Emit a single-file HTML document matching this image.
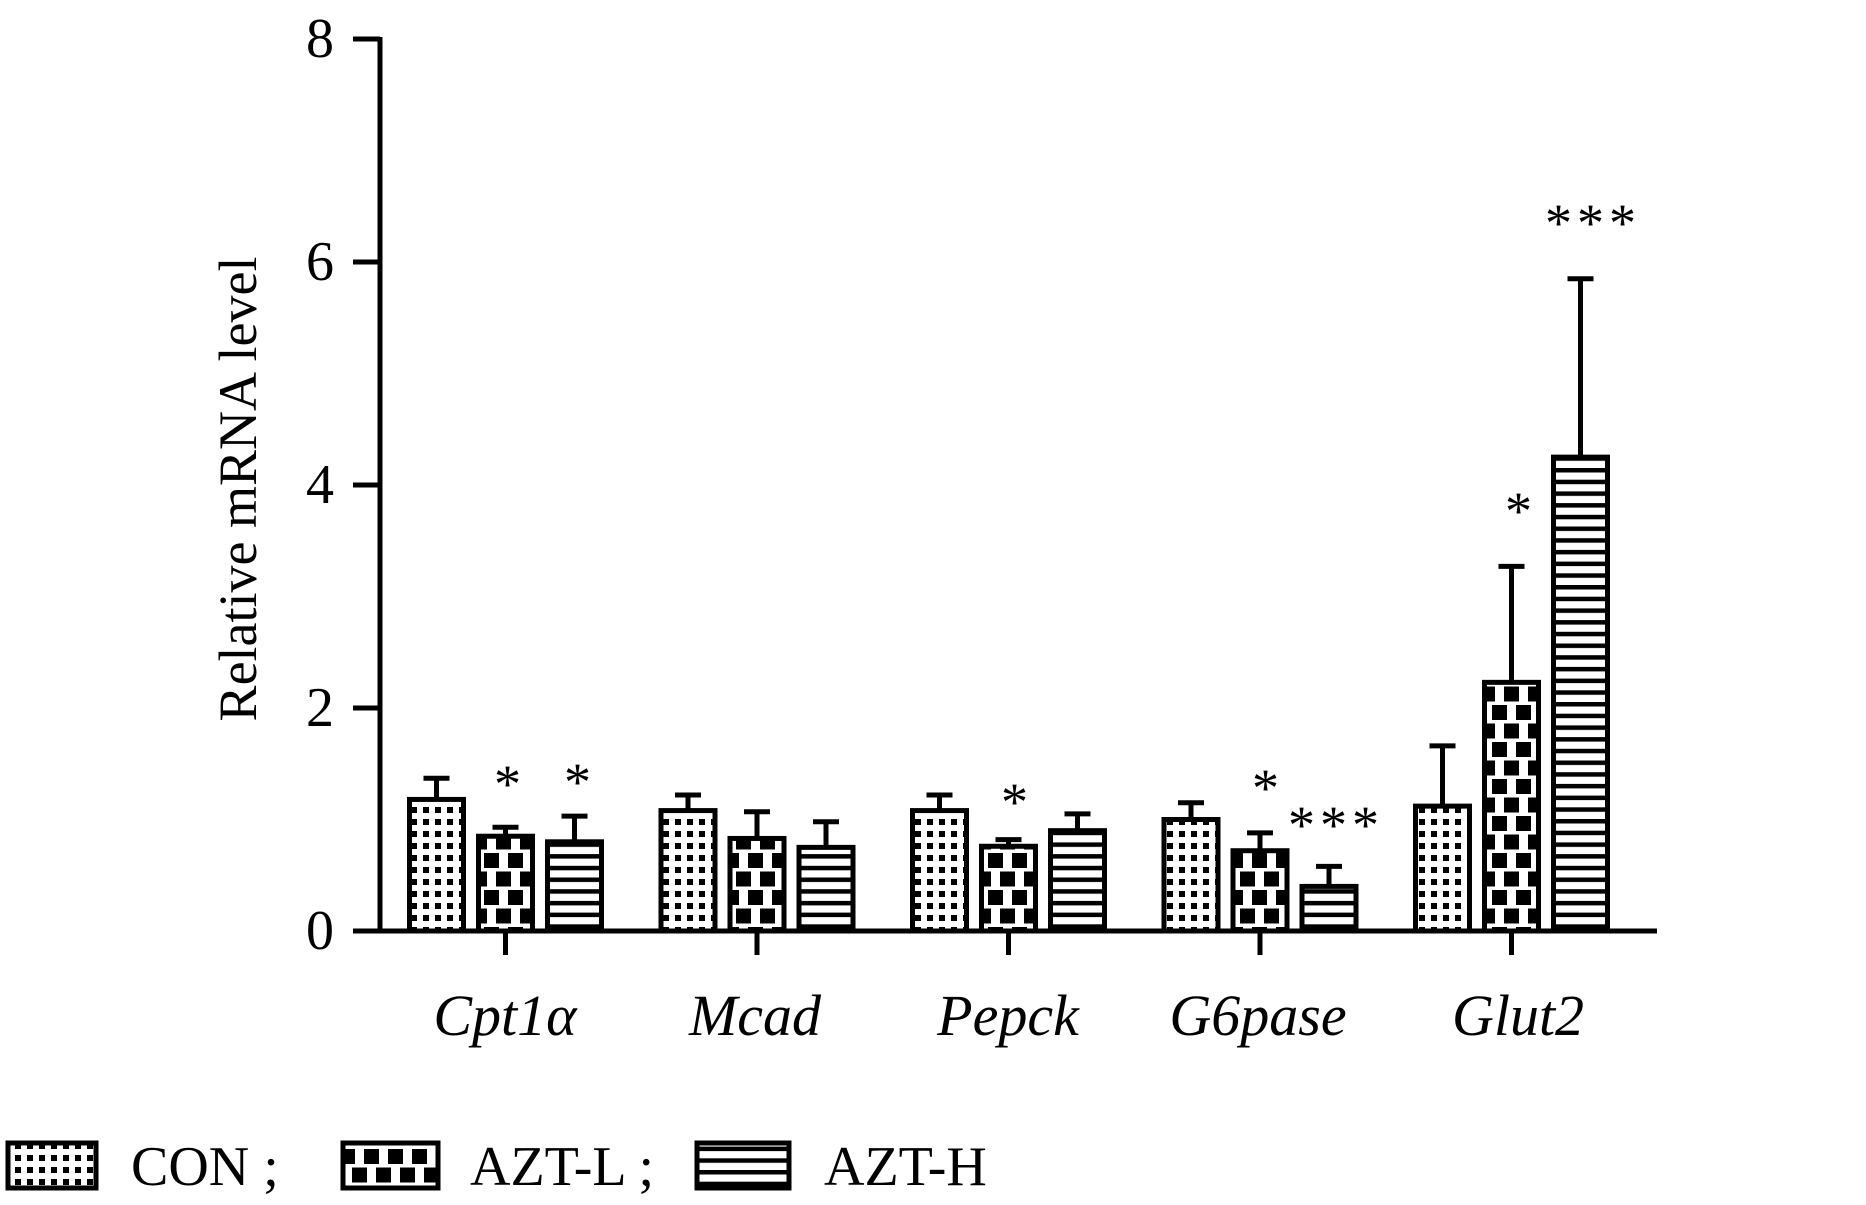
<!DOCTYPE html>
<html><head><meta charset="utf-8"><style>
html,body{margin:0;padding:0;background:#fff;}
svg{display:block;}
text{font-family:"Liberation Serif",serif;fill:#000;}
</style></head><body>
<svg width="1866" height="1205" viewBox="0 0 1866 1205" xmlns="http://www.w3.org/2000/svg">
<defs>
<pattern id="dots" width="12" height="12" patternUnits="userSpaceOnUse">
<rect width="12" height="12" fill="#fff"/><rect x="3" y="3" width="6" height="6" fill="#000"/>
</pattern>
<pattern id="brick" width="24" height="37" patternUnits="userSpaceOnUse">
<rect width="24" height="37" fill="#fff"/>
<rect x="4" y="2" width="15" height="15" fill="#000"/>
<rect x="-8" y="20.5" width="15" height="15" fill="#000"/>
<rect x="16" y="20.5" width="15" height="15" fill="#000"/>
</pattern>
<pattern id="stripes" width="12" height="11.7" patternUnits="userSpaceOnUse">
<rect width="12" height="11.7" fill="#fff"/><rect y="0" width="12" height="4.5" fill="#000"/>
</pattern>
</defs>

<line x1="380" y1="37" x2="380" y2="933" stroke="#000" stroke-width="5"/>
<line x1="378" y1="931" x2="1657" y2="931" stroke="#000" stroke-width="5"/>
<g stroke="#000" stroke-width="5">
<line x1="353" y1="39" x2="380" y2="39"/>
<line x1="353" y1="262" x2="380" y2="262"/>
<line x1="353" y1="485" x2="380" y2="485"/>
<line x1="353" y1="708" x2="380" y2="708"/>
<line x1="353" y1="931" x2="380" y2="931"/>
<line x1="505.5" y1="931" x2="505.5" y2="955"/>
<line x1="757" y1="931" x2="757" y2="955"/>
<line x1="1008.5" y1="931" x2="1008.5" y2="955"/>
<line x1="1260" y1="931" x2="1260" y2="955"/>
<line x1="1511.5" y1="931" x2="1511.5" y2="955"/>
</g>
<g font-size="56" text-anchor="end">
<text x="334" y="57">8</text>
<text x="334" y="280">6</text>
<text x="334" y="503">4</text>
<text x="334" y="726">2</text>
<text x="334" y="949">0</text>
</g>
<text transform="translate(256,489) rotate(-90)" font-size="54" text-anchor="middle">Relative mRNA level</text>

<g id="bars" stroke="#000" stroke-width="5"></g>

<g font-size="58" font-style="italic" text-anchor="middle">
<text x="505" y="1035">Cpt1<tspan>α</tspan></text>
<text x="755" y="1035">Mcad</text>
<text x="1008" y="1035">Pepck</text>
<text x="1258" y="1035">G6pase</text>
<text x="1518" y="1035">Glut2</text>
</g>

<g font-size="54" text-anchor="middle" letter-spacing="5">
<text x="510" y="802">*</text>
<text x="580" y="800">*</text>
<text x="1017" y="820">*</text>
<text x="1268" y="806">*</text>
<text x="1336" y="843">***</text>
<text x="1521" y="529">*</text>
<text x="1593" y="241">***</text>
</g>

<g stroke="#000" stroke-width="5">
<rect x="8" y="1143" width="88" height="45" fill="url(#dots)"/>
<rect x="343" y="1143" width="95" height="45" fill="url(#brick)"/>
<rect x="697" y="1143" width="92" height="45" fill="url(#stripes)"/>
</g>
<g font-size="56">
<text x="131" y="1185">CON ;</text>
<text x="470" y="1185">AZT-L ;</text>
<text x="824" y="1185">AZT-H</text>
</g>

<script>
var g=document.getElementById('bars');
var data=[[1.18,1.37,0.85,0.93,0.8,1.03],[1.08,1.22,0.83,1.07,0.75,0.98],[1.08,1.22,0.76,0.82,0.9,1.05],[1.0,1.15,0.72,0.88,0.4,0.58],[1.12,1.66,2.23,3.27,4.25,5.85]];
var fills=['url(#dots)','url(#brick)','url(#stripes)'];
var ns='http://www.w3.org/2000/svg';
function Y(v){return 931-v*111.5;}
for(var i=0;i<5;i++){var c=505.5+251.5*i;
 for(var j=0;j<3;j++){var x=c+(j-1)*69;var v=data[i][j*2],e=data[i][j*2+1];
  var l=document.createElementNS(ns,'line');l.setAttribute('x1',x);l.setAttribute('x2',x);l.setAttribute('y1',Y(v));l.setAttribute('y2',Y(e));g.appendChild(l);
  var t=document.createElementNS(ns,'line');t.setAttribute('x1',x-13);t.setAttribute('x2',x+13);t.setAttribute('y1',Y(e));t.setAttribute('y2',Y(e));g.appendChild(t);
  var r=document.createElementNS(ns,'rect');r.setAttribute('x',x-27);r.setAttribute('width',54);r.setAttribute('y',Y(v));r.setAttribute('height',931-Y(v));r.setAttribute('fill',fills[j]);g.appendChild(r);
 }}
</script>
</svg>
</body></html>
